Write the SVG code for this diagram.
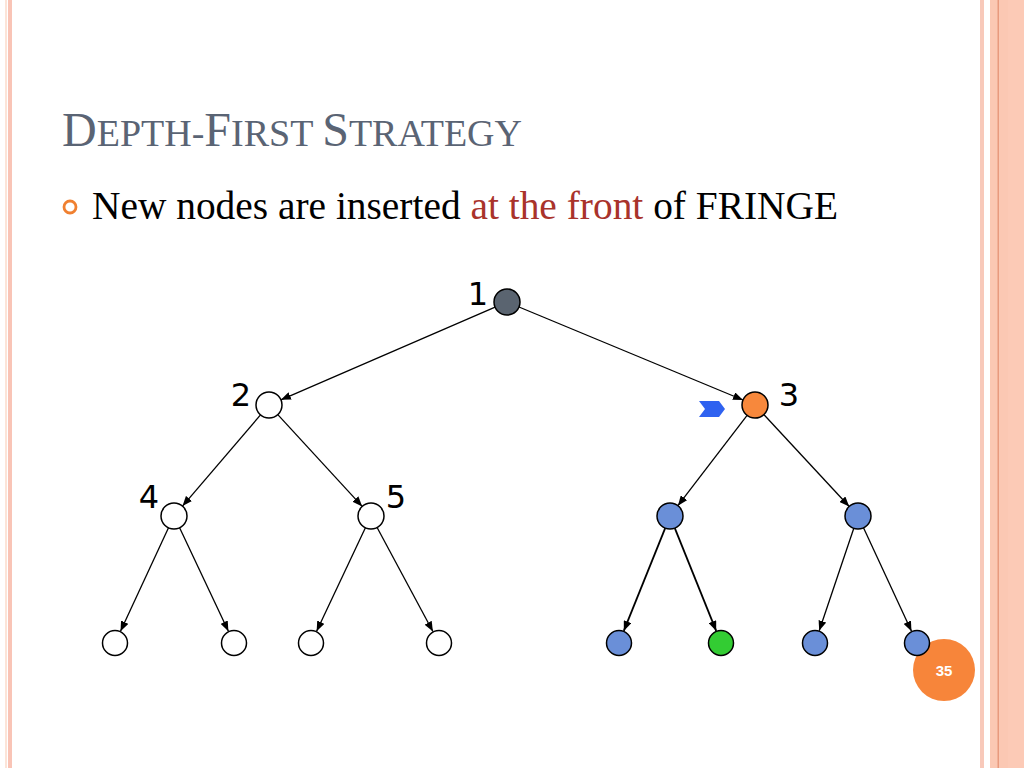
<svg xmlns="http://www.w3.org/2000/svg" width="1024" height="768" viewBox="0 0 1024 768">
<defs>
<style>
.node{stroke:#000;stroke-width:1.5}
.white{fill:#fff}
.blue{fill:#6A8FD8}
.edge{stroke:#000;stroke-width:1.3;fill:none;marker-end:url(#arr)}
.edge2{stroke:#000;stroke-width:1.8;fill:none;marker-end:url(#arr)}
.lbl{font-family:"DejaVu Sans",Verdana,sans-serif;font-size:32px;fill:#000;text-anchor:middle}
</style>
<marker id="arr" markerUnits="userSpaceOnUse" markerWidth="10" markerHeight="8" refX="10" refY="4" orient="auto">
<path d="M0,0 L10,4 L0,8 z" fill="#000"/>
</marker>
</defs>
<rect width="1024" height="768" fill="#fff"/>
<g id="border">
<rect x="5" y="0" width="2" height="768" fill="#FCE4D8"/>
<rect x="8" y="0" width="4" height="768" fill="#F9C4B6"/>
<rect x="980" y="0" width="4" height="768" fill="#F8C9BA"/>
<rect x="990" y="0" width="34" height="768" fill="#FBC8B3"/>
<rect x="1008" y="0" width="16" height="768" fill="#FCCAB6"/>
<rect x="997.5" y="0" width="1.5" height="768" fill="#E89A7E"/>
</g>
<g id="title">
<text x="62" y="146" font-family="'Liberation Serif',serif" fill="#5A6474"><tspan font-size="48">D</tspan><tspan font-size="38">EPTH-</tspan><tspan font-size="48">F</tspan><tspan font-size="38">IRST </tspan><tspan font-size="48">S</tspan><tspan font-size="38">TRATEGY</tspan></text>
</g>
<g id="bullet">
<circle cx="70" cy="207" r="6" fill="none" stroke="#F08030" stroke-width="2.8"/>
<text x="92" y="219" font-family="'Liberation Serif',serif" font-size="39.4" fill="#000">New nodes are inserted <tspan fill="#A9332B">at the front</tspan> of FRINGE</text>
</g>
<g id="pagenum">
<circle cx="944" cy="670" r="31" fill="#F7853A"/>
<text x="944" y="676" font-family="'Liberation Sans',Arial,sans-serif" font-size="15" font-weight="bold" fill="#fff" text-anchor="middle">35</text>
</g>
<g id="connectors">
<line class="edge" x1="495.1" y1="307.2" x2="280.9" y2="399.8"/>
<line class="edge" x1="519" y1="307" x2="743" y2="400"/>
<line class="edge" x1="260.5" y1="414.9" x2="182.5" y2="506.1"/>
<line class="edge" x1="277.8" y1="414.6" x2="362.2" y2="506.4"/>
<line class="edge" x1="168.5" y1="527.8" x2="120.5" y2="631.2"/>
<line class="edge" x1="179.6" y1="527.8" x2="228.4" y2="631.2"/>
<line class="edge" x1="365.4" y1="527.8" x2="316.6" y2="631.2"/>
<line class="edge" x1="377.1" y1="527.5" x2="432.9" y2="631.5"/>
<line class="edge" x1="747.1" y1="415.3" x2="677.9" y2="505.7"/>
<line class="edge" x1="763.8" y1="414.5" x2="849.2" y2="506.5"/>
<line class="edge2" x1="665.2" y1="528.1" x2="623.8" y2="630.9"/>
<line class="edge2" x1="674.8" y1="528.1" x2="716.2" y2="630.9"/>
<line class="edge" x1="853.8" y1="528.3" x2="819.2" y2="630.7"/>
<line class="edge" x1="863.5" y1="527.8" x2="911.5" y2="631.2"/>
</g>
<g id="n1"><circle class="node" cx="507" cy="302" r="13" fill="#5A6470"/><text class="lbl" x="478" y="305">1</text></g>
<g id="n2"><circle class="node white" cx="269" cy="405" r="13"/><text class="lbl" x="241" y="406">2</text></g>
<g id="n3"><circle class="node" cx="755" cy="405" r="13" fill="#F7883C"/><text class="lbl" x="789" y="406">3</text></g>
<g id="marker3"><path d="M699,401 L719,401 L725,409 L719,417 L699,417 L705,409 z" fill="#2F62F0"/></g>
<g id="n4"><circle class="node white" cx="174" cy="516" r="13"/><text class="lbl" x="149" y="508">4</text></g>
<g id="n5"><circle class="node white" cx="371" cy="516" r="13"/><text class="lbl" x="396" y="508">5</text></g>
<g id="n6"><circle class="node blue" cx="670" cy="516" r="13"/></g>
<g id="n7"><circle class="node blue" cx="858" cy="516" r="13"/></g>
<g id="n8"><circle class="node white" cx="115" cy="643" r="12.5"/></g>
<g id="n9"><circle class="node white" cx="234" cy="643" r="12.5"/></g>
<g id="n10"><circle class="node white" cx="311" cy="643" r="12.5"/></g>
<g id="n11"><circle class="node white" cx="439" cy="643" r="12.5"/></g>
<g id="n12"><circle class="node blue" cx="619" cy="643" r="12.5"/></g>
<g id="n13"><circle class="node" cx="721" cy="643" r="12.5" fill="#33CC33"/></g>
<g id="n14"><circle class="node blue" cx="815" cy="643" r="12.5"/></g>
<g id="n15"><circle class="node blue" cx="917" cy="643" r="12.5"/></g>
</svg>
